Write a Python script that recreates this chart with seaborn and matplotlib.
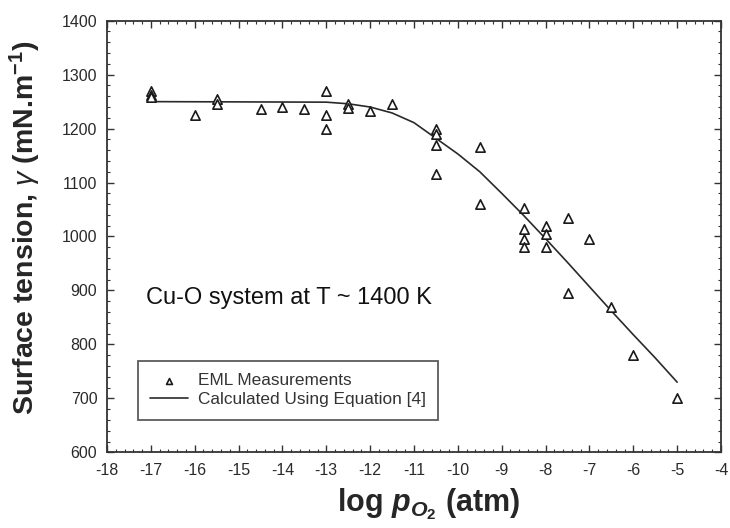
import numpy as np
import pandas as pd
import matplotlib
matplotlib.use("Agg")
import matplotlib.pyplot as plt
from matplotlib.ticker import MultipleLocator
import seaborn as sns

# measured points
meas_logp = [-17, -17, -17, -16, -15.5, -15.5, -14.5, -14, -13.5,
             -13, -13, -13, -12.5, -12.5, -12, -11.5,
             -10.5, -10.5, -10.5, -10.5, -9.5, -9.5,
             -8.5, -8.5, -8.5, -8.5, -8, -8, -8, -7.5, -7.5, -7,
             -6.5, -6, -5]
meas_gamma = [1270, 1262, 1258, 1225, 1255, 1245, 1237, 1240, 1237,
              1270, 1225, 1200, 1245, 1238, 1232, 1245,
              1200, 1190, 1170, 1115, 1165, 1060,
              1052, 1013, 995, 980, 1020, 1005, 980, 1035, 895, 995,
              870, 780, 700]

# calculated curve
calc_logp = [-17, -13, -12.5, -12, -11.5, -11, -10.5, -10, -9.5, -9,
             -8.5, -8, -7.5, -7, -6.5, -6, -5.5, -5]
calc_gamma = [1250, 1249, 1246, 1240, 1229, 1211, 1182, 1153, 1120, 1080,
              1039, 996, 952, 907, 862, 818, 775, 730]

xticks = list(range(-18, -3))
yticks = list(range(600, 1401, 100))

sns.set_theme(style="ticks")
plt.rcParams['font.family'] = ['Liberation Sans', 'DejaVu Sans']
plt.rcParams['axes.unicode_minus'] = False
plt.rcParams['mathtext.fontset'] = 'custom'
plt.rcParams['mathtext.rm'] = 'Liberation Sans'
plt.rcParams['mathtext.it'] = 'Liberation Sans:italic'
plt.rcParams['mathtext.bf'] = 'Liberation Sans:bold'
plt.rcParams['mathtext.bfit'] = 'Liberation Sans:italic:bold'

fig = plt.figure(figsize=(7.3, 5.28), dpi=100)
ax = fig.add_axes([107/730, 1 - 452.3/528, (721-107)/730, (452.3-20.7)/528])

df_m = pd.DataFrame({"logp": meas_logp, "gamma": meas_gamma})
df_c = pd.DataFrame({"logp": calc_logp, "gamma": calc_gamma})

sns.lineplot(data=df_c, x="logp", y="gamma", ax=ax, color="#2a2a2a",
             linewidth=1.2, label="Calculated Using Equation [4]", zorder=2)
sns.scatterplot(data=df_m, x="logp", y="gamma", ax=ax, marker="^",
                s=45, facecolor="white", edgecolor="#1a1a1a", linewidth=1.2,
                label="EML Measurements", zorder=3)

ax.set_xlim(-18, -4)
ax.set_ylim(600, 1400)
ax.set_xticks(xticks)
ax.set_yticks(yticks)
ax.xaxis.set_minor_locator(MultipleLocator(0.2))
ax.yaxis.set_minor_locator(MultipleLocator(20))
ax.tick_params(which="both", direction="in", top=True, right=True,
               color="#333333", labelcolor="#2a2a2a", labelsize=11.5)
ax.tick_params(which="major", length=5, width=1)
ax.tick_params(which="minor", length=2.5, width=0.8)
ax.tick_params(axis="x", pad=8)
ax.tick_params(axis="y", pad=7)
for sp in ax.spines.values():
    sp.set_color("#333333")
    sp.set_linewidth(1.3)

ax.set_xlabel(r"log $\mathbfit{p}_{\mathbfit{O}_{\mathbf{2}}}$ (atm)",
              fontsize=22, fontweight="bold")
ax.xaxis.set_label_coords(0.524, -0.080)
ax.set_ylabel(r"Surface tension, $\gamma$ (mN.m$^{\mathbf{-1}}$)",
              fontsize=20.5, fontweight="bold")
ax.yaxis.set_label_coords(-0.105, 0.521)

ax.text(-17.12, 886, "Cu-O system at T ~ 1400 K", fontsize=17,
        color="#111111", va="center", ha="left")

handles, labels = ax.get_legend_handles_labels()
order = [1, 0]
leg = ax.legend([handles[i] for i in order], [labels[i] for i in order],
                loc="upper left", bbox_to_anchor=(138/730, 1 - 361/528),
                bbox_transform=fig.transFigure, fancybox=False, frameon=True,
                edgecolor="#333333", fontsize=12.4, handlelength=2.2,
                handletextpad=0.58, borderpad=0.7, labelspacing=0.25,
                borderaxespad=0)
leg.get_frame().set_linewidth(1.3)
for t in leg.get_texts():
    t.set_color("#333333")
for h in leg.legend_handles:
    try:
        h.set_sizes([18])
    except Exception:
        pass

fig.savefig("out.png", dpi=100, facecolor="white")
